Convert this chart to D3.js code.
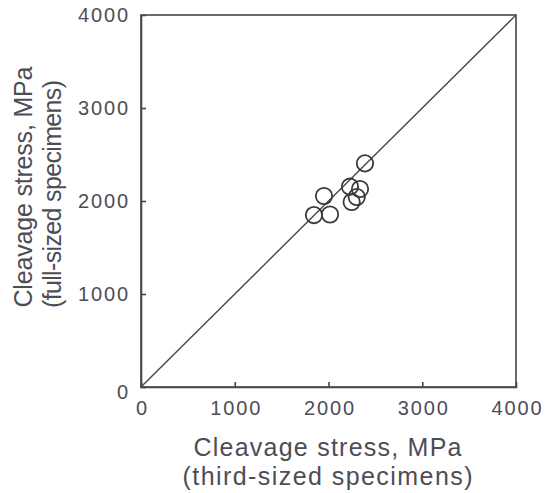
<!DOCTYPE html>
<html>
<head>
<meta charset="utf-8">
<script src="https://cdn.jsdelivr.net/npm/d3@7"></script>
<style>
  html, body { margin: 0; padding: 0; background: #fff; }
  svg { display: block; }
  text { font-family: "Liberation Sans", Arial, Helvetica, sans-serif; fill: #4d4d55; }
</style>
</head>
<body>
<svg id="chart" width="556" height="493"></svg>
<script>
// Data
const thirdSized = [2389, 1952, 1845, 2016, 2229, 2336, 2301, 2247];
const fullSized  = [2405, 2054, 1849, 1855, 2154, 2129, 2043, 1989];
const tickValues = [0, 1000, 2000, 3000, 4000];
const xTitle = ["Cleavage stress, MPa", "(third-sized specimens)"];
const yTitle = ["Cleavage stress, MPa", "(full-sized specimens)"];

const svg = d3.select("#chart");
const margin = { left: 141, right: 40, top: 15, bottom: 106 };
const W = 556, H = 493;
const x = d3.scaleLinear().domain([0, 4000]).range([margin.left, W - margin.right]);
const y = d3.scaleLinear().domain([0, 4000]).range([H - margin.bottom, margin.top]);

const lineColor = "#46464c";

// frame
svg.append("rect")
  .attr("x", x(0)).attr("y", y(4000))
  .attr("width", x(4000) - x(0)).attr("height", y(0) - y(4000))
  .attr("fill", "none").attr("stroke", lineColor).attr("stroke-width", 1.6);

// axes (inward ticks)
const xAxis = d3.axisBottom(x).tickValues(tickValues).tickSize(-5).tickPadding(14).tickFormat(d3.format("d"));
const gx = svg.append("g").attr("transform", `translate(0,${y(0)})`).call(xAxis);
const yAxis = d3.axisLeft(y).tickValues(tickValues).tickSize(-5).tickPadding(11).tickFormat(d3.format("d"));
const gy = svg.append("g").attr("transform", `translate(${x(0)},0)`).call(yAxis);

[gx, gy].forEach(g => {
  g.select(".domain").attr("stroke", lineColor).attr("stroke-width", 1.6);
  g.selectAll(".tick line").attr("stroke", lineColor).attr("stroke-width", 1.6)
    .filter(d => d === 0 || d === 4000).remove();
  g.selectAll(".tick text")
    .style("font-family", "'Liberation Sans', Arial, sans-serif")
    .attr("font-size", 20).attr("letter-spacing", 1.9).attr("fill", "#4d4d55");
});
gx.selectAll(".tick text").attr("dx", 1);
gy.selectAll(".tick text").filter(d => d === 0).attr("dy", "0.55em");

// identity line
svg.append("line")
  .attr("x1", x(0)).attr("y1", y(0)).attr("x2", x(4000)).attr("y2", y(4000))
  .attr("stroke", lineColor).attr("stroke-width", 1.4);

// points
svg.append("g").selectAll("circle")
  .data(thirdSized.map((v, i) => [v, fullSized[i]]))
  .join("circle")
  .attr("cx", d => x(d[0])).attr("cy", d => y(d[1]))
  .attr("r", 8.2)
  .attr("fill", "none").attr("stroke", "#3a3a40").attr("stroke-width", 1.8);

// x title
const xCenter = (x(0) + x(4000)) / 2 - 1;
svg.append("text").attr("x", xCenter).attr("y", 456)
  .attr("text-anchor", "middle").attr("font-size", 25)
  .attr("textLength", 268).attr("lengthAdjust", "spacing").text(xTitle[0]);
svg.append("text").attr("x", xCenter).attr("y", 485)
  .attr("text-anchor", "middle").attr("font-size", 25)
  .attr("textLength", 290).attr("lengthAdjust", "spacing").text(xTitle[1]);

// y title
const yCenter = 187;
svg.append("text").attr("transform", `translate(32,${yCenter}) rotate(-90)`)
  .attr("text-anchor", "middle").attr("font-size", 25)
  .attr("textLength", 241).attr("lengthAdjust", "spacing").text(yTitle[0]);
svg.append("text").attr("transform", `translate(61,${yCenter + 7}) rotate(-90)`)
  .attr("text-anchor", "middle").attr("font-size", 25)
  .attr("textLength", 228).attr("lengthAdjust", "spacing").text(yTitle[1]);
</script>
</body>
</html>
